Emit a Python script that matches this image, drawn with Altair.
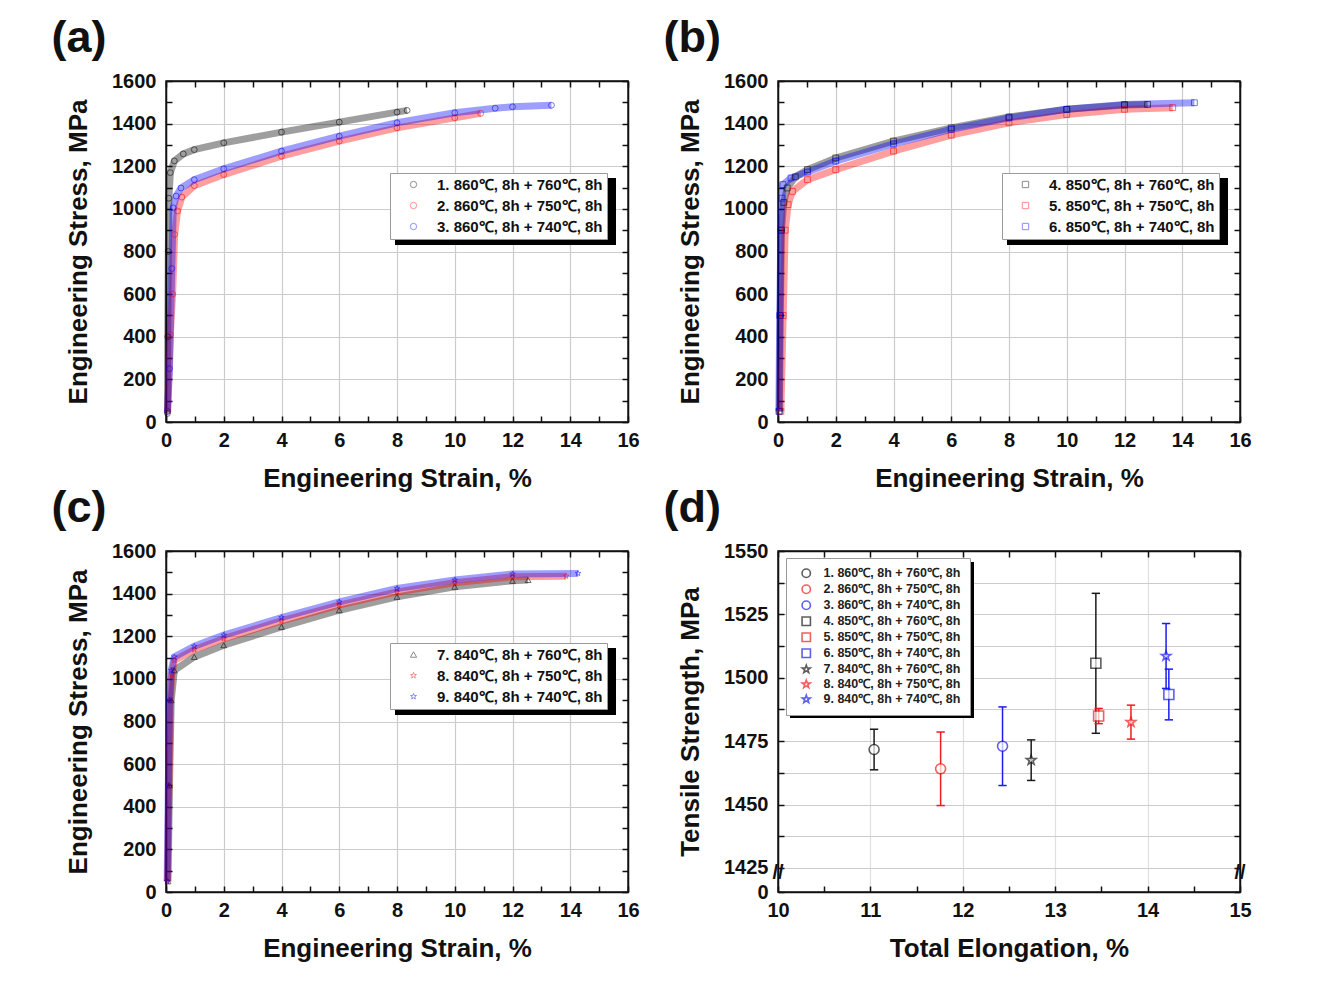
import altair as alt
import pandas as pd

FONT = "Liberation Sans"
W, H = 462, 341
STAR = "M0,-1L0.235,-0.324L0.951,-0.309L0.38,0.124L0.588,0.809L0,0.4L-0.588,0.809L-0.38,0.124L-0.951,-0.309L-0.235,-0.324Z"

# ---------------- panel (a) ----------------
A_LABELS = ["1. 860℃, 8h + 760℃, 8h", "2. 860℃, 8h + 750℃, 8h", "3. 860℃, 8h + 740℃, 8h"]
A1_STRAIN = [0.05, 0.06, 0.08, 0.10, 0.15, 0.29, 0.60, 0.98, 2.0, 4.0, 6.0, 8.0, 8.35]
A1_STRESS = [40, 400, 800, 1050, 1170, 1225, 1258, 1278, 1310, 1360, 1407, 1454, 1462]
A2_STRAIN = [0.06, 0.15, 0.23, 0.30, 0.40, 0.55, 0.98, 2.0, 4.0, 6.0, 8.0, 10.0, 10.9]
A2_STRESS = [50, 410, 600, 880, 990, 1055, 1109, 1161, 1247, 1318, 1380, 1427, 1448]
A3_STRAIN = [0.05, 0.12, 0.20, 0.25, 0.35, 0.52, 0.98, 2.0, 4.0, 6.0, 8.0, 10.0, 11.4, 12.0, 13.35]
A3_STRESS = [50, 250, 720, 1005, 1060, 1098, 1137, 1188, 1271, 1341, 1404, 1451, 1472, 1479, 1486]

# ---------------- panel (b) ----------------
B_LABELS = ["4. 850℃, 8h + 760℃, 8h", "5. 850℃, 8h + 750℃, 8h", "6. 850℃, 8h + 740℃, 8h"]
B4_STRAIN = [0.05, 0.08, 0.12, 0.20, 0.32, 0.60, 1.02, 2.0, 4.0, 6.0, 8.0, 10.0, 12.0, 12.8]
B4_STRESS = [50, 500, 900, 1030, 1098, 1150, 1184, 1239, 1318, 1380, 1431, 1467, 1487, 1490]
B5_STRAIN = [0.10, 0.18, 0.25, 0.35, 0.50, 1.02, 2.0, 4.0, 6.0, 8.0, 10.0, 12.0, 13.67]
B5_STRESS = [50, 500, 900, 1020, 1082, 1137, 1184, 1271, 1346, 1404, 1443, 1467, 1475]
B6_STRAIN = [0.03, 0.06, 0.10, 0.14, 0.17, 0.45, 1.02, 2.0, 4.0, 6.0, 8.0, 10.0, 12.0, 14.42]
B6_STRESS = [50, 500, 900, 1050, 1114, 1145, 1173, 1224, 1305, 1373, 1427, 1467, 1490, 1498]

# ---------------- panel (c) ----------------
C_LABELS = ["7. 840℃, 8h + 760℃, 8h", "8. 840℃, 8h + 750℃, 8h", "9. 840℃, 8h + 740℃, 8h"]
C7_STRAIN = [0.07, 0.12, 0.18, 0.29, 0.98, 2.0, 4.0, 6.0, 8.0, 10.0, 12.0, 12.54]
C7_STRESS = [50, 500, 900, 1040, 1103, 1158, 1244, 1322, 1385, 1432, 1460, 1464]
C8_STRAIN = [0.05, 0.10, 0.15, 0.20, 0.29, 0.98, 2.0, 4.0, 6.0, 8.0, 10.0, 12.0, 13.86]
C8_STRESS = [50, 500, 900, 1020, 1087, 1137, 1189, 1272, 1346, 1408, 1451, 1479, 1482]
C9_STRAIN = [0.04, 0.08, 0.12, 0.18, 0.29, 0.98, 2.0, 4.0, 6.0, 8.0, 10.0, 12.0, 14.27]
C9_STRESS = [50, 500, 900, 1040, 1103, 1153, 1205, 1288, 1361, 1424, 1464, 1492, 1495]

# ---------------- panel (d) ----------------
D_LABELS = A_LABELS + B_LABELS + C_LABELS
D_ELONG = [11.04, 11.76, 12.43, 13.44, 13.47, 14.23, 12.74, 13.82, 14.20]
D_TS = [1471.7, 1464.1, 1473.0, 1505.7, 1484.9, 1493.4, 1467.5, 1482.5, 1508.6]
D_ERR = [8.0, 14.5, 15.5, 27.6, 3.0, 10.0, 8.0, 6.7, 12.8]
D_COLORS = ["#1a1a1a", "#ee1c1c", "#1c1cee"] * 3
D_SHAPES = ["circle"] * 3 + ["square"] * 3 + [STAR] * 3
CAP_HALF = 0.045
BREAK_X = [10, 15]
BREAK_Y = [1423, 1423]

# tick lists
X_TICKS = list(range(0, 17))
Y_TICKS = list(range(0, 1601, 100))
DX_TICKS = [10 + 0.5 * i for i in range(11)]
DY_TICKS = [1415.5] + [1425 + 12.5 * i for i in range(11)]

CURVE_COLORS = ["#000000", "#ff0000", "#0000ff"]


def ax(**kw):
    base = dict(labelFont=FONT, labelFontWeight="bold", labelFontSize=20, labelColor="#111",
                titleFont=FONT, titleFontWeight="bold", titleFontSize=26, titleColor="#111",
                domainColor="#111", domainWidth=1.5, tickColor="#111", tickWidth=1.5,
                tickSize={"expr": "-6"}, gridColor="#cccccc", gridWidth=1.2, labelFlush=False)
    base.update(kw)
    return alt.Axis(**base)


def mirror(orient, values):
    return ax(orient=orient, values=values, labels=False, title=None, grid=False)


def panel_title(txt):
    return alt.TitleParams(txt, anchor="start", frame="bounds", fontSize=45, font=FONT,
                           fontWeight="bold", color="#111", dx=-14, offset=10)


def curve_panel(tag, labels, strains, stresses, shapes):
    rows = []
    for lab, xs, ys in zip(labels, strains, stresses):
        for i, (x, y) in enumerate(zip(xs, ys)):
            rows.append({"strain": x, "stress": y, "label": lab, "idx": i})
    df = pd.DataFrame(rows)
    xsc = alt.Scale(domain=[0, 16], nice=False, zero=False)
    ysc = alt.Scale(domain=[0, 1600], nice=False)
    csc = alt.Scale(domain=labels, range=CURVE_COLORS)
    ssc = alt.Scale(domain=labels, range=shapes)
    leg = alt.Legend(title=None, orient="none", legendX=224, legendY=92, fillColor="white",
                     strokeColor="#9a9a9a", padding=4, labelFont=FONT, labelFontWeight="bold",
                     labelFontSize=15, labelColor="#111", symbolSize=40, symbolStrokeWidth=1,
                     symbolOpacity=0.45, rowPadding=5, labelOffset=16, symbolOffset=12,
                     labelLimit=400, symbolFillColor="transparent")
    xb = ax(orient="bottom", values=X_TICKS, labelExpr="datum.value % 2 == 0 ? datum.label : ''",
            gridOpacity={"condition": {"test": "datum.value % 2 == 0", "value": 1}, "value": 0},
            title="Engineering Strain, %", labelPadding=14, titlePadding=15)
    yl = ax(orient="left", values=Y_TICKS, format="d", labelExpr="datum.value % 200 == 0 ? datum.label : ''",
            gridOpacity={"condition": {"test": "datum.value % 200 == 0", "value": 1}, "value": 0},
            title="Engineering Stress, MPa", labelPadding=16, titlePadding=20)
    lines = alt.Chart(df).mark_line(strokeWidth=7, opacity=0.38).encode(
        x=alt.X("strain:Q", scale=xsc, axis=xb),
        y=alt.Y("stress:Q", scale=ysc, axis=yl),
        color=alt.Color("label:N", scale=csc, legend=leg),
        order="idx:Q",
    )
    pts = alt.Chart(df).mark_point(filled=False, size=34, strokeWidth=0.9, opacity=0.6).encode(
        x=alt.X("strain:Q", scale=xsc, axis=mirror("top", X_TICKS)),
        y=alt.Y("stress:Q", scale=ysc, axis=mirror("right", Y_TICKS)),
        color=alt.Color("label:N", scale=csc, legend=leg),
        shape=alt.Shape("label:N", scale=ssc, legend=leg),
    )
    shadow = alt.Chart(pd.DataFrame({"s": [0]})).mark_rect(color="#000").encode(
        x=alt.value(229), x2=alt.value(450), y=alt.value(97), y2=alt.value(164))
    return alt.layer(lines, pts, shadow).properties(width=W, height=H, title=panel_title(tag))


pa = curve_panel("(a)", A_LABELS, [A1_STRAIN, A2_STRAIN, A3_STRAIN], [A1_STRESS, A2_STRESS, A3_STRESS],
                 ["circle"] * 3)
pb = curve_panel("(b)", B_LABELS, [B4_STRAIN, B5_STRAIN, B6_STRAIN], [B4_STRESS, B5_STRESS, B6_STRESS],
                 ["square"] * 3)
pc = curve_panel("(c)", C_LABELS, [C7_STRAIN, C8_STRAIN, C9_STRAIN], [C7_STRESS, C8_STRESS, C9_STRESS],
                 ["triangle-up", STAR, STAR])

# panel (d)
dd = pd.DataFrame({"label": D_LABELS, "elong": D_ELONG, "ts": D_TS, "err": D_ERR})
dd["lo"] = dd["ts"] - dd["err"]
dd["hi"] = dd["ts"] + dd["err"]
dd["cl"] = dd["elong"] - CAP_HALF
dd["cr"] = dd["elong"] + CAP_HALF
dxs = alt.Scale(domain=[10, 15], nice=False, zero=False)
dys = alt.Scale(domain=[1415.5, 1550], nice=False, zero=False)
dcs = alt.Scale(domain=D_LABELS, range=D_COLORS)
dss = alt.Scale(domain=D_LABELS, range=D_SHAPES)
dleg = alt.Legend(title=None, orient="none", legendX=8, legendY=7, fillColor="white",
                  strokeColor="#9a9a9a", padding=9, labelFont=FONT, labelFontWeight="bold",
                  labelFontSize=12.5, labelColor="#222", symbolSize=70, symbolStrokeWidth=1.6,
                  rowPadding=0, labelOffset=11, symbolOffset=5, labelLimit=400,
                  symbolFillColor="white")
dxb = ax(orient="bottom", values=DX_TICKS, labelExpr="datum.value % 1 == 0 ? format(datum.value, 'd') : ''",
         gridOpacity={"condition": {"test": "datum.value % 1 == 0", "value": 0.6}, "value": 0},
         title="Total Elongation, %", labelPadding=14, titlePadding=15)
dyl = ax(orient="left", values=DY_TICKS,
         labelExpr="datum.value < 1420 ? '0' : (datum.value % 25 == 0 ? format(datum.value, 'd') : '')",
         gridOpacity={"condition": {"test": "datum.value > 1420", "value": 1}, "value": 0},
         title="Tensile Strength, MPa", labelPadding=16, titlePadding=20)
rules = alt.Chart(dd).mark_rule(strokeWidth=1.5).encode(
    x=alt.X("elong:Q", scale=dxs, axis=dxb),
    y=alt.Y("lo:Q", scale=dys, axis=dyl),
    y2="hi:Q",
    stroke=alt.Stroke("label:N", scale=dcs, legend=dleg),
)
cap_lo = alt.Chart(dd).mark_rule(strokeWidth=1.5).encode(
    x=alt.X("cl:Q", scale=dxs, axis=None),
    x2="cr:Q",
    y=alt.Y("lo:Q", scale=dys, axis=None),
    stroke=alt.Stroke("label:N", scale=dcs, legend=dleg),
)
cap_hi = alt.Chart(dd).mark_rule(strokeWidth=1.5).encode(
    x=alt.X("cl:Q", scale=dxs, axis=None),
    x2="cr:Q",
    y=alt.Y("hi:Q", scale=dys, axis=None),
    stroke=alt.Stroke("label:N", scale=dcs, legend=dleg),
)
dpts = alt.Chart(dd).mark_point(filled=True, size=100, strokeWidth=1.6, fill="white").encode(
    x=alt.X("elong:Q", scale=dxs, axis=mirror("top", DX_TICKS)),
    y=alt.Y("ts:Q", scale=dys, axis=mirror("right", DY_TICKS)),
    stroke=alt.Stroke("label:N", scale=dcs, legend=dleg),
    shape=alt.Shape("label:N", scale=dss, legend=dleg),
)
breaks = alt.Chart(pd.DataFrame({"bx": BREAK_X, "by": BREAK_Y})).mark_text(
    text="//", fontSize=20, fontWeight="bold", font=FONT, color="#111").encode(
    x=alt.X("bx:Q", scale=dxs, axis=None),
    y=alt.Y("by:Q", scale=dys, axis=None),
)
dshadow = alt.Chart(pd.DataFrame({"s": [0]})).mark_rect(color="#000").encode(
    x=alt.value(12), x2=alt.value(196), y=alt.value(11), y2=alt.value(167))
pdd = alt.layer(rules, cap_lo, cap_hi, dpts, breaks, dshadow).properties(
    width=W, height=H, title=panel_title("(d)"))

top = alt.hconcat(pa, pb, spacing=22).resolve_scale(color="independent", shape="independent", stroke="independent")
bottom = alt.hconcat(pc, pdd, spacing=22).resolve_scale(color="independent", shape="independent", stroke="independent")
chart = alt.vconcat(top, bottom, spacing=-7).resolve_scale(
    color="independent", shape="independent", stroke="independent"
).properties(
    padding={"left": 42, "top": 7, "right": 5, "bottom": 5}, background="white"
).configure_view(stroke="#111", strokeWidth=1.5)

chart.save("out.html", embed_options={"renderer": "svg", "actions": False})
